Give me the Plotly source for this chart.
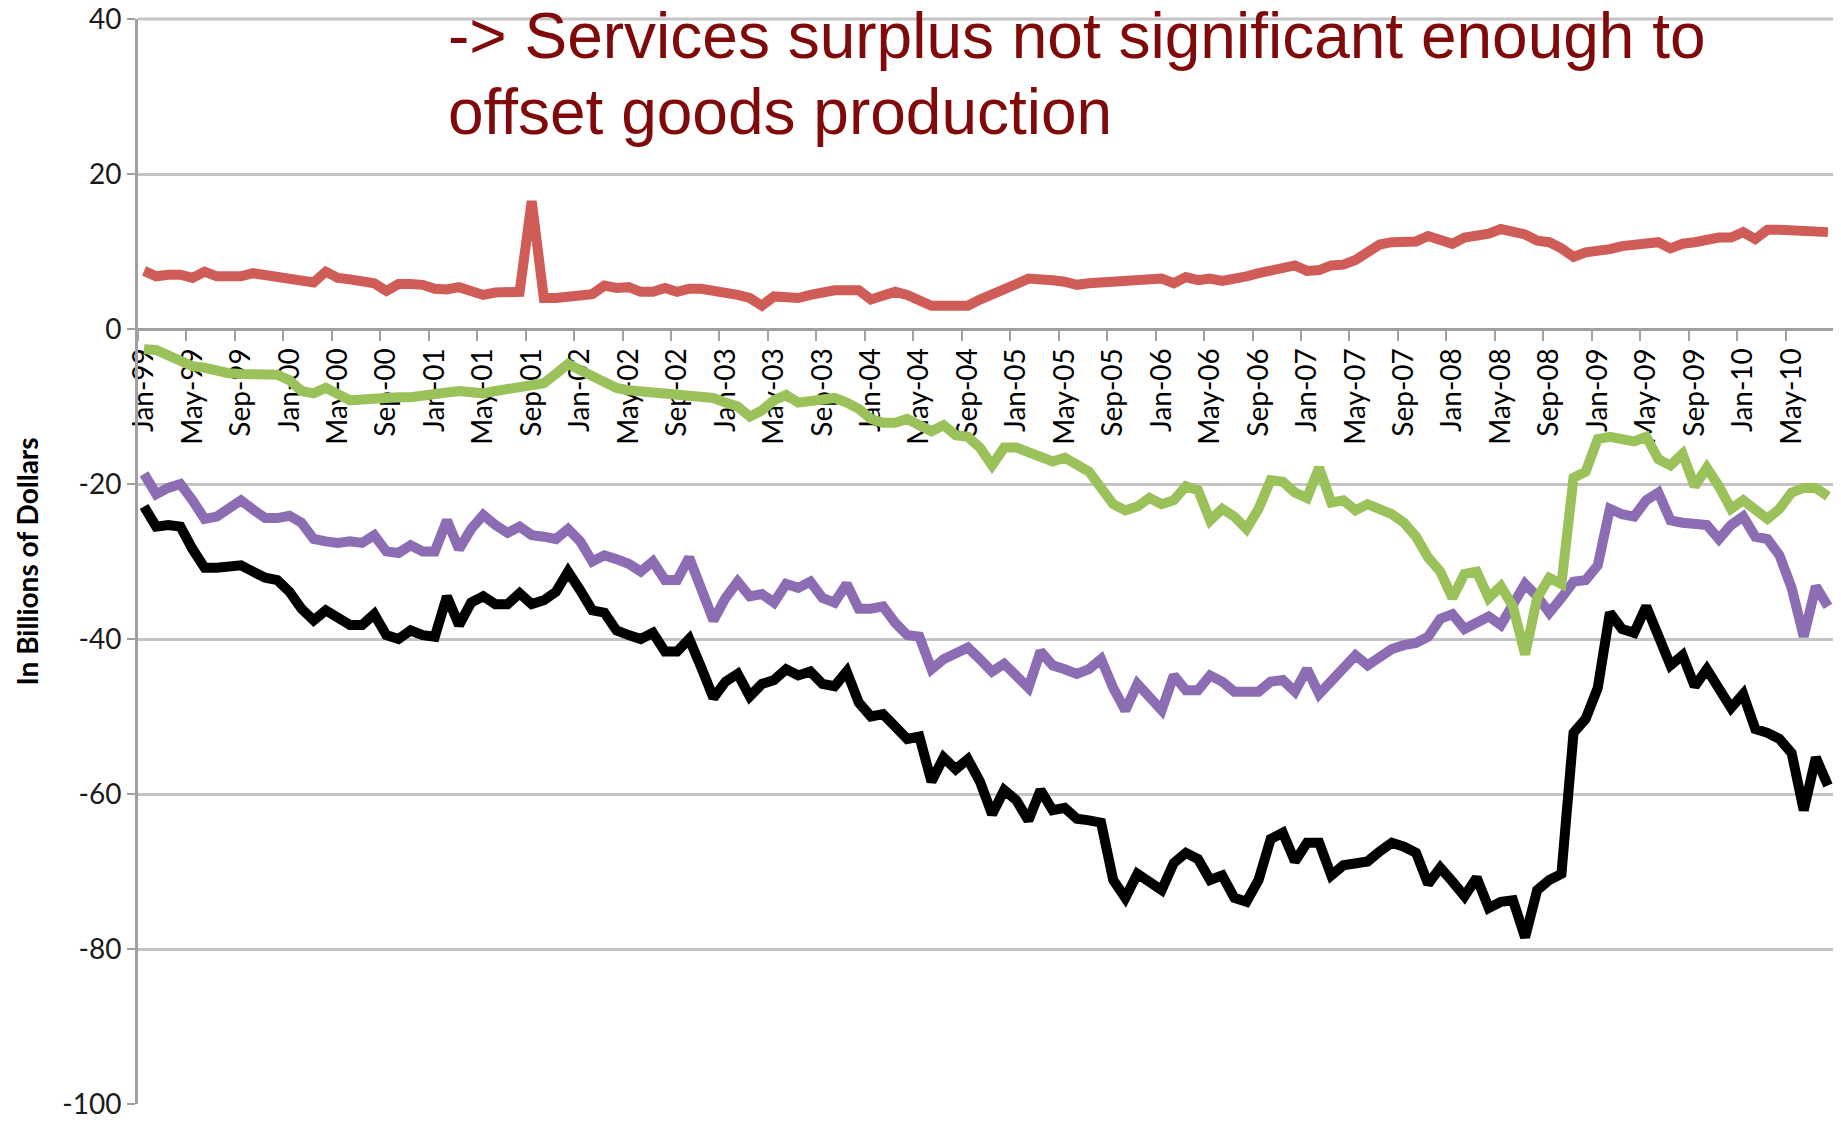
import plotly.graph_objects as go
import pandas as pd

# Category axis: monthly, Jan-1999 .. Aug-2010
months = [d.strftime("%b-%y") for d in pd.date_range("1999-01-01", "2010-08-01", freq="MS")]

services = [7.5, 6.8, 7.0, 7.0, 6.6, 7.4, 6.8, 6.8, 6.8, 7.2,
            7.0, 6.8, 6.6, 6.4, 6.0, 7.4, 6.6, 6.4, 6.0, 5.9,
            4.9, 5.8, 5.8, 5.7, 5.2, 5.1, 5.4, 4.8, 4.4, 4.7,
            4.8, 4.8, 16.5, 4.0, 4.0, 4.1, 4.2, 4.5, 5.6, 5.3,
            5.4, 4.8, 4.8, 5.3, 4.8, 5.2, 5.2, 5.0, 4.8, 4.4,
            4.0, 3.0, 4.2, 4.2, 4.0, 4.4, 4.8, 5.0, 5.0, 5.0,
            3.8, 4.2, 4.8, 4.4, 3.8, 3.0, 3.0, 3.0, 3.0, 3.8,
            4.4, 4.9, 5.8, 6.5, 6.5, 6.3, 6.1, 5.7, 5.9, 6.0,
            6.3, 6.3, 6.4, 6.7, 6.5, 5.9, 6.7, 6.3, 6.5, 6.2,
            6.4, 6.8, 7.2, 7.6, 8.1, 8.2, 7.5, 7.6, 8.2, 8.3,
            8.9, 10.0, 10.9, 11.2, 11.2, 11.3, 12.0, 11.6, 11.0, 11.8,
            12.0, 12.3, 12.9, 12.5, 12.2, 11.4, 11.2, 10.4, 9.3, 9.9,
            10.0, 10.3, 10.7, 10.9, 11.1, 11.2, 10.4, 11.0, 11.2, 11.6,
            11.8, 11.8, 12.5, 11.6, 12.8, 12.8, 12.8, 12.5, 12.5, 12.5]

petroleum = [-2.6, -2.7, -3.4, -4.2, -4.8, -5.0, -5.4, -5.7, -5.8, -5.8,
             -5.8, -5.9, -6.6, -8.0, -8.3, -7.6, -8.4, -9.2, -9.1, -8.9,
             -8.8, -8.8, -8.8, -8.7, -8.6, -8.2, -8.0, -8.3,
             -8.3, -8.0, -7.7, -7.5, -7.3, -7.0, -5.8, -4.5, -5.3, -6.0, -6.8, -7.6,
             -7.9, -8.0, -8.2, -8.3, -8.6, -8.7, -8.7, -8.9, -9.5, -10.0,
             -11.3, -10.5, -9.2, -8.5, -9.5, -9.3,
             -9.2, -8.9, -9.5, -10.3, -11.6, -12.1, -12.1, -11.6, -12.4, -13.2, -12.4, -13.7, -13.9, -15.3,
             -17.6, -15.3, -15.3, -15.9, -16.3, -17.1, -16.6, -17.4, -18.4, -20.5, -22.6, -23.4, -22.9, -21.8,
             -22.6, -22.1, -20.3, -20.8, -24.7, -23.2, -24.2, -25.8, -23.2, -19.5, -19.7, -21.1, -21.8, -17.9,
             -22.4, -22.1, -23.4, -22.6, -23.2, -23.9, -25.0, -26.8, -29.5, -31.3, -34.7, -31.6, -31.3, -34.7,
             -33.2, -35.8, -42.0, -34.7, -32.1, -32.9, -19.2, -18.4, -14.2, -13.9, -14.2, -14.5, -13.9, -16.8,
             -17.6, -16.1, -20.3, -17.9, -20.3, -23.2, -22.1, -23.4, -24.5, -23.2, -21.1, -20.5, -20.5, -21.6]

non_petroleum = [-18.7, -21.3, -20.5, -20.0, -22.1, -24.5, -24.2, -23.3, -22.1, -23.3,
                 -24.4, -24.4, -24.1, -25.0, -27.1, -27.4, -27.6, -27.4, -27.6, -26.6,
                 -28.7, -28.9, -27.9, -28.7, -28.7, -24.7, -28.4, -25.8,
                 -24.0, -25.3, -26.3, -25.5, -26.6, -26.8, -27.1, -25.8, -27.4, -30.0,
                 -29.2, -29.7, -30.3, -31.3, -30.0, -32.4, -32.4, -29.5, -33.7, -37.6,
                 -34.7, -32.6, -34.5, -34.2, -35.3, -32.9, -33.4, -32.6,
                 -34.7, -35.3, -32.9, -36.1, -36.1, -35.8, -37.9, -39.5, -39.7, -43.9,
                 -42.6, -41.8, -41.1, -42.6, -44.2, -43.2, -44.7, -46.3, -41.6, -43.4,
                 -43.9, -44.5, -43.9, -42.6, -46.3, -49.2, -45.8, -47.4,
                 -49.2, -44.7, -46.6, -46.6, -44.7, -45.5, -46.8, -46.8, -46.8, -45.5,
                 -45.3, -46.8, -43.9, -47.1, -45.3, -43.7, -42.1, -43.4, -42.4, -41.3,
                 -40.8, -40.5, -39.7, -37.4, -36.8, -38.7, -37.9, -37.1,
                 -38.2, -35.3, -32.9, -34.5, -36.6, -34.7, -32.6, -32.4, -30.5, -23.2,
                 -23.9, -24.2, -22.1, -21.1, -24.7, -25.0, -25.0, -25.3, -27.1, -25.3,
                 -24.2, -26.8, -27.1, -29.2, -33.4, -39.7, -33.2, -35.8]

goods = [-22.9, -25.5, -25.3, -25.5, -28.4, -30.8, -30.8, -30.5, -30.5, -31.3,
         -32.1, -32.4, -33.9, -36.1, -37.6, -36.3, -37.3, -38.2, -38.2, -36.8,
         -39.5, -40.0, -38.9, -39.5, -39.7, -34.5, -38.2, -35.3,
         -34.5, -35.5, -35.5, -34.1, -35.5, -35.0, -33.9, -31.3, -33.7, -36.3,
         -36.6, -38.9, -39.5, -40.0, -39.2, -41.6, -41.6, -40.0, -43.7, -47.6,
         -45.5, -44.5, -47.4, -45.8, -45.3, -43.9, -44.7, -44.2,
         -45.8, -46.1, -44.2, -48.2, -50.0, -49.7, -51.3, -52.9, -52.6, -58.4,
         -55.3, -56.8, -55.5, -58.4, -62.6, -59.5, -60.8, -63.4, -59.5, -62.1,
         -61.8, -63.2, -63.4, -63.7, -71.1, -73.4, -70.3, -71.3,
         -72.4, -68.9, -67.6, -68.4, -71.1, -70.5, -73.4, -73.9, -71.1, -65.8,
         -65.0, -68.7, -66.3, -66.3, -70.5, -69.2, -68.9, -68.7, -67.4, -66.3,
         -66.8, -67.6, -71.6, -69.5, -71.3, -73.2, -70.8, -74.7,
         -73.9, -73.7, -78.5, -72.4, -71.1, -70.3, -52.1, -50.3, -46.3, -36.6,
         -38.7, -39.2, -35.8, -39.5, -43.4, -42.1, -46.1, -43.9, -46.6, -48.9,
         -47.1, -51.6, -52.1, -52.9, -54.7, -62.1, -55.3, -58.9]

y_ticks = [40, 20, 0, -20, -40, -60, -80, -100]
y_tick_text = [str(v) for v in y_ticks]
title_lines = ["-> Services surplus not significant enough to", "offset goods production"]
y_title = "In Billions of Dollars"

series = [
    ("Goods balance", goods, "#000000"),
    ("Non-petroleum goods", non_petroleum, "#8C6DB4"),
    ("Petroleum", petroleum, "#9BC15A"),
    ("Services", services, "#D05C57"),
]

fig = go.Figure()
for name, vals, color in series:
    fig.add_trace(go.Scatter(x=months, y=vals, mode="lines", name=name,
                             line=dict(color=color, width=10)))

# The page body adds an 8px offset, so the figure is 8px smaller than the window
W, H = 1833, 1115
L, R, T, B = 130, 7, 11, 19
plot_w, plot_h = W - L - R, H - T - B

GRID = "#C4C4C4"
AXIS = "#A0A0A0"
y_min, y_max = -100, 40
x_axis_pos = (0 - y_min) / (y_max - y_min)
fig.update_layout(
    width=W, height=H,
    margin=dict(l=L, r=R, t=T, b=B, autoexpand=False),
    paper_bgcolor="white", plot_bgcolor="white",
    showlegend=False,
    font=dict(family="Lato, Arial, sans-serif", color="#000000"),
    xaxis=dict(
        type="category", categoryorder="array", categoryarray=months,
        range=[-0.5, len(months) - 0.5],
        anchor="free", position=x_axis_pos,
        tickmode="linear", tick0=0, dtick=4, tickson="boundaries",
        tickangle=-90, ticks="outside", ticklen=10, tickcolor=AXIS, tickwidth=2,
        ticklabelstandoff=6, ticklabeloverflow="allow",
        tickfont=dict(size=28, family="Lato", color="#000000"),
        showline=True, linecolor=AXIS, linewidth=3,
        showgrid=False, zeroline=False, layer="below traces", automargin=False,
    ),
    yaxis=dict(
        range=[y_min, y_max], tickmode="array", tickvals=y_ticks, ticktext=y_tick_text,
        ticks="outside", ticklen=8, tickcolor=AXIS, tickwidth=2,
        ticklabeloverflow="allow",
        tickfont=dict(size=28, family="Lato", color="#1a1a1a"),
        showline=True, linecolor=AXIS, linewidth=3,
        showgrid=True, gridcolor=GRID, gridwidth=3,
        zeroline=False, automargin=False,
    ),
)

# top gridline (at the edge of the plot area) and closing tick at the right end of the x axis
fig.add_shape(type="line", xref="paper", yref="paper", x0=0, x1=1, y0=1, y1=1,
              line=dict(color=GRID, width=3), layer="below")
fig.add_shape(type="line", xref="paper", yref="paper", x0=1, x1=1,
              y0=x_axis_pos, y1=x_axis_pos - 10 / plot_h,
              line=dict(color=AXIS, width=2), layer="below")

# y-axis title
fig.add_annotation(
    xref="paper", yref="paper", x=(18 - L) / plot_w, y=0.5,
    xanchor="center", yanchor="middle", textangle=-90, showarrow=False,
    text="<b>" + y_title + "</b>",
    font=dict(family="Lato", size=28, color="#000000"),
)

# headline text, two lines (centres given in figure pixels)
for line, yc in zip(title_lines, [28, 104]):
    fig.add_annotation(
        xref="paper", yref="paper", x=308 / plot_w, y=1 + (T - yc) / plot_h,
        xanchor="left", yanchor="middle", align="left", showarrow=False,
        text=line,
        font=dict(family="Liberation Sans, Arial, sans-serif", size=64, color="#800A0A"),
    )

fig.write_html("out.html")
